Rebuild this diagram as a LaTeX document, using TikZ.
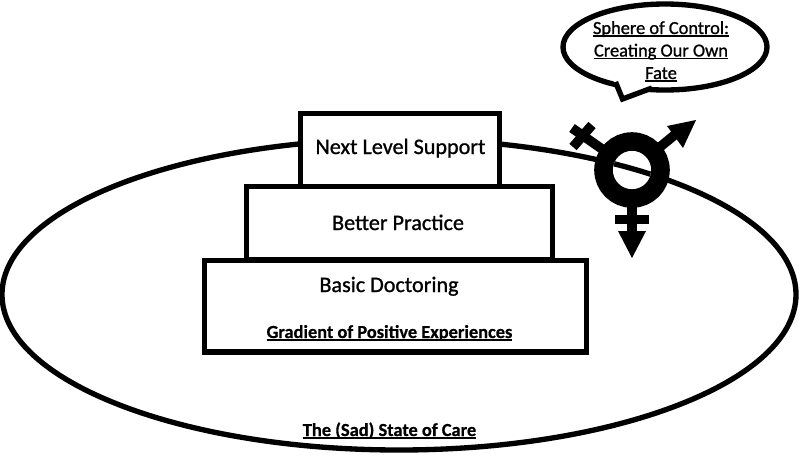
\documentclass[tikz,border=0pt]{standalone}
\usepackage{fontspec}
\usetikzlibrary{shapes.geometric}
\setmainfont{Carlito}
\newfontface\labelface{Carlito}[RawFeature={embolden=1.0}]
\newfontface\headface{Carlito Bold}[RawFeature={embolden=0.6}]
% underline set close to the baseline, with no gaps at descenders
\newcommand\rulebelow[1]{\setbox0=\hbox{#1}\rlap{\rule[-1.9pt]{\wd0}{0.95pt}}\box0}
\tikzset{
  px/.style={x=0.75pt,y=-0.75pt},
  outline/.style={draw=black,line width=4pt,fill=white},
  tier/.style={outline,rectangle,inner sep=0pt},
  tierlabel/.style={inner sep=0pt,anchor=base,font=\fontsize{16.6}{20}\labelface},
  heading/.style={inner sep=0pt,anchor=base,font=\fontsize{13.8}{16}\headface},
  bubblelabel/.style={inner sep=0pt,anchor=base,font=\fontsize{13.8}{17}\labelface},
  symbolpart/.style={draw=black,line width=7.2pt,line cap=butt},
  tip/.style={fill=black,draw=none}
}
\begin{document}
\begin{tikzpicture}[px]
  \useasboundingbox (0,0) rectangle (800,455);
  \fill[white] (0,0) rectangle (800,455);

  % the outer field of care
  \node[ellipse,draw=black,line width=4pt,inner sep=0pt,minimum width=595.5pt,minimum height=233.25pt] (field) at (399,294.5) {};

  % stacked tiers
  \node[tier,minimum width=149.25pt,minimum height=54.5pt] (top) at (400,150) {};
  \node[tier,minimum width=229.5pt,minimum height=54.5pt] (mid) at (399.5,223) {};
  \node[tier,minimum width=286.5pt,minimum height=68.5pt] (base) at (395.5,306.2) {};
  \node[tierlabel] (toplabel) at (400.5,154) {Next Level Support};
  \node[tierlabel] (midlabel) at (398,230) {Better Practice};
  \node[tierlabel] (baselabel) at (389,292) {Basic Doctoring};
  \node[heading] (gradient) at (389.5,338) {\rulebelow{Gradient of Positive Experiences}};
  \node[heading] (state) at (389.5,436) {\rulebelow{The (Sad) State of Care}};

  % speech bubble with its tail
  \node[ellipse,draw=black,line width=4pt,inner sep=0pt,minimum width=153pt,minimum height=64.5pt] (bubble) at (665,47) {};
  \fill[white] (612,78) -- (623,97) -- (658,84) -- cycle;
  \draw[black,line width=4pt,miter limit=10] (615.5,82) -- (622.5,99) -- (652,88);
  \node[bubblelabel] (bubbleone) at (661,34) {\rulebelow{Sphere of Control:}};
  \node[bubblelabel] (bubbletwo) at (661,56.5) {\rulebelow{Creating Our Own}};
  \node[bubblelabel] (bubblethree) at (661,79) {\rulebelow{Fate}};

  % combined gender symbol
  \coordinate (ring) at (632,170);
  \draw[symbolpart] (ring) -- (632,235);
  \draw[symbolpart] (615,219.5) -- (649,219.5);
  \fill[tip] (618,231) -- (646,231) -- (632,258) -- cycle;
  \draw[symbolpart] (ring) -- (677,133);
  \fill[tip] (667,126) -- (696,120) -- (683,148) -- cycle;
  \draw[symbolpart] (ring) -- (572,128);
  \draw[symbolpart] (573,147) -- (592,125);
  \node[circle,draw=black,line width=13.9pt,inner sep=0pt,minimum size=42.8pt,fill=white] (symbol) at (ring) {};
  \begin{scope}
    \clip (ring) circle (19);
    \draw[black,line width=4pt] (399,294.5) ellipse (397 and 155.5);
  \end{scope}
\end{tikzpicture}
\end{document}
